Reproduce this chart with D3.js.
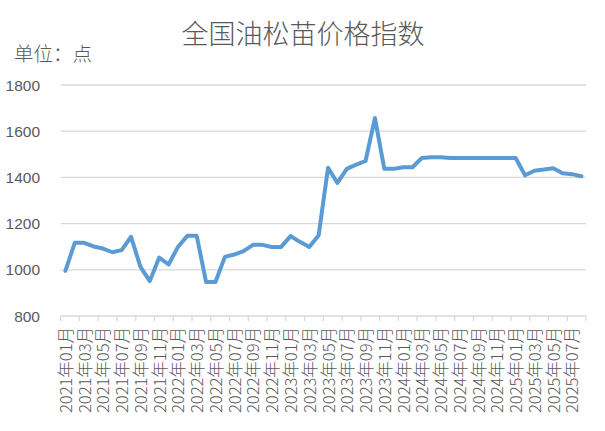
<!DOCTYPE html>
<html lang="zh-CN">
<head>
<meta charset="UTF-8">
<title>全国油松苗价格指数</title>
<script src="https://d3js.org/d3.v7.min.js"></script>
<style>
  body { margin: 0; background: #fff; }
  svg { display: block; }
  .grid line { stroke: #d9d9d9; stroke-width: 1.3; }
  text { fill: #595959; }
</style>
</head>
<body>
<svg id="chart" width="605" height="431"></svg>
<script>
// 月份 2021-01 .. 2025-08
const months = [];
for (let yr = 2021; yr <= 2025; yr++) {
  for (let m = 1; m <= 12; m++) {
    if (yr === 2025 && m > 8) break;
    months.push(yr + "年" + String(m).padStart(2, "0") + "月");
  }
}

// 指数值
const values2021 = [995, 1117, 1117, 1101, 1092, 1076, 1085, 1143, 1013, 951, 1053, 1023];
const values2022 = [1099, 1147, 1147, 947, 947, 1056, 1066, 1081, 1108, 1108, 1099, 1099];
const values2023 = [1146, 1121, 1099, 1150, 1442, 1376, 1437, 1455, 1471, 1657, 1437, 1437];
const values2024 = [1444, 1444, 1484, 1487, 1487, 1484, 1484, 1484, 1484, 1484, 1484, 1484];
const values2025 = [1484, 1409, 1429, 1434, 1440, 1418, 1414, 1405];
const values = [].concat(values2021, values2022, values2023, values2024, values2025);

const yTicks = [800, 1000, 1200, 1400, 1600, 1800];

const svg = d3.select("#chart");
const plotLeft = 60.7, plotRight = 586, plotTop = 85, plotBottom = 316;

const x = d3.scaleBand().domain(months).range([plotLeft, plotRight]);
const y = d3.scaleLinear().domain([800, 1800]).range([plotBottom, plotTop]);

// 标题
svg.append("text")
  .attr("x", 303).attr("y", 44)
  .attr("text-anchor", "middle")
  .style("font-family", "'Noto Sans CJK SC', sans-serif")
  .style("font-size", "27px")
  .style("font-weight", 300)
  .text("全国油松苗价格指数");

svg.append("text")
  .attr("x", 14).attr("y", 61)
  .style("font-family", "'Noto Sans CJK SC', sans-serif")
  .style("font-size", "19.5px")
  .style("font-weight", 300)
  .text("单位：点");

// 网格线
svg.append("g").attr("class", "grid")
  .selectAll("line")
  .data(yTicks.slice(1))
  .join("line")
  .attr("x1", plotLeft).attr("x2", plotRight)
  .attr("y1", d => y(d)).attr("y2", d => y(d));

// y 轴标签
svg.append("g")
  .selectAll("text")
  .data(yTicks)
  .join("text")
  .attr("x", 40).attr("y", d => y(d) + 5.5)
  .attr("text-anchor", "end")
  .style("font-family", "'Liberation Sans', sans-serif")
  .style("font-size", "15.5px")
  .text(d => d);

// x 轴
const tickMonths = months.filter((d, i) => i % 2 === 0);
const xAxis = svg.append("g").attr("transform", `translate(0,${plotBottom})`);
xAxis.append("line")
  .attr("x1", plotLeft).attr("x2", plotRight)
  .attr("stroke", "#d9d9d9").attr("stroke-width", 1.3);
xAxis.selectAll("line.tick")
  .data(tickMonths.concat([null]))
  .join("line")
  .attr("class", "tick")
  .attr("x1", d => d ? x(d) : plotRight).attr("x2", d => d ? x(d) : plotRight)
  .attr("y1", 0).attr("y2", 5)
  .attr("stroke", "#d9d9d9").attr("stroke-width", 1.3);
xAxis.selectAll("text")
  .data(tickMonths)
  .join("text")
  .attr("transform", d => `translate(${x(d) + x.bandwidth() / 2 + 6.5},11) rotate(-90)`)
  .attr("text-anchor", "end")
  .style("font-family", "'Noto Sans CJK SC', sans-serif")
  .style("font-size", "16.5px")
  .style("font-weight", 300)
  .text(d => d);

// 折线
const line = d3.line()
  .x((d, i) => x(months[i]) + x.bandwidth() / 2)
  .y(d => y(d));

svg.append("path")
  .datum(values)
  .attr("fill", "none")
  .attr("stroke", "#5b9bd5")
  .attr("stroke-width", 4)
  .attr("stroke-linejoin", "round")
  .attr("stroke-linecap", "round")
  .attr("d", line);
</script>
</body>
</html>
